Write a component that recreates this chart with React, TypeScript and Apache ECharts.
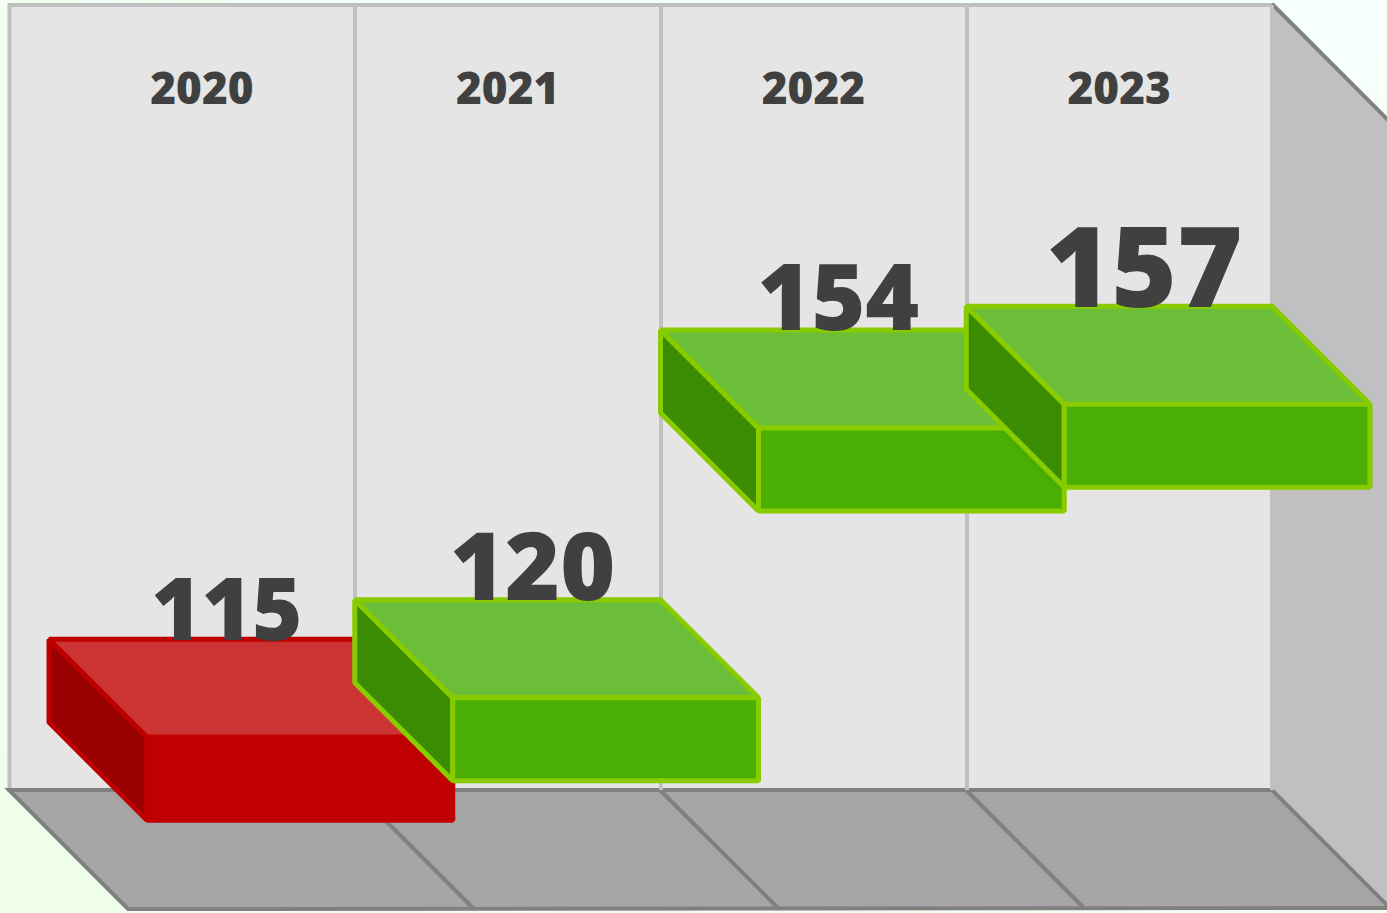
import React, { useEffect, useRef } from "react";
import * as echarts from "echarts";

const categories = ["2020", "2021", "2022", "2023"];
const values = [115, 120, 154, 157];

const RED = { top: "#cc3333", front: "#c00000", side: "#990000", stroke: "#c00000" };
const GREEN = { top: "#6cbe38", front: "#4aae04", side: "#3c8c03", stroke: "#88cc00" };
const slabStyles = [RED, GREEN, GREEN, GREEN];
const labelSizes = [86, 94, 92, 112];

const DEPTH = 98;
const THICK = 83;
const FONT = "'Open Sans', Lato, sans-serif";

export default function App() {
  const ref = useRef<HTMLDivElement>(null);
  useEffect(() => {
    if (!ref.current) return;
    const chart = echarts.init(ref.current, undefined, { renderer: "svg" });
    const option: any = {
      animation: false,
      backgroundColor: {
        type: "linear",
        x: 1,
        y: 0,
        x2: 0,
        y2: 1,
        colorStops: [
          { offset: 0, color: "#f6fffb" },
          { offset: 1, color: "#effeea" },
        ],
      },
      grid: { left: 49, right: 115, top: 5, bottom: 123 },
      xAxis: {
        type: "category",
        data: categories,
        position: "top",
        axisLine: { show: false },
        axisTick: { show: false },
        axisLabel: {
          inside: true,
          margin: 82,
          verticalAlign: "middle",
          fontFamily: FONT,
          fontWeight: 800,
          fontSize: 44,
          color: "#404040",
        },
        splitLine: {
          show: true,
          interval: (i: number) => i > 0,
          lineStyle: { color: "#c0c0c0", width: 4 },
        },
      },
      yAxis: {
        type: "value",
        min: 96,
        max: 195,
        show: false,
        splitLine: { show: false },
      },
      graphic: [
        {
          type: "rect",
          z: -10,
          shape: { x: 9.5, y: 5, width: 1263, height: 785 },
          style: { fill: "#e5e5e5", stroke: "#c0c0c0", lineWidth: 4 },
        },
        {
          type: "polygon",
          z: -10,
          shape: { points: [[1272, 5], [1392, 125], [1392, 910], [1272, 790]] },
          style: { fill: "#c0c0c0", stroke: "none" },
        },
        {
          type: "line",
          z: -9,
          shape: { x1: 1272, y1: 4, x2: 1392, y2: 124 },
          style: { stroke: "#808080", lineWidth: 4 },
        },
        {
          type: "line",
          z: -9,
          shape: { x1: 1272, y1: 5, x2: 1272, y2: 790 },
          style: { stroke: "#b4b4b4", lineWidth: 3 },
        },
        {
          type: "polygon",
          z: -8,
          shape: { points: [[9, 790], [1272, 790], [1390, 908], [128, 909]] },
          style: { fill: "#a6a6a6", stroke: "#808080", lineWidth: 4, lineJoin: "miter" },
        },
        {
          type: "line",
          z: -7,
          shape: { x1: 355, y1: 790, x2: 474, y2: 909 },
          style: { stroke: "#808080", lineWidth: 4 },
        },
        {
          type: "line",
          z: -7,
          shape: { x1: 660, y1: 790, x2: 779, y2: 909 },
          style: { stroke: "#808080", lineWidth: 4 },
        },
        {
          type: "line",
          z: -7,
          shape: { x1: 966, y1: 790, x2: 1085, y2: 909 },
          style: { stroke: "#808080", lineWidth: 4 },
        },
      ],
      series: [
        {
          type: "custom",
          clip: false,
          data: categories.map((c, i) => [i, values[i]]),
          encode: { x: 0, y: 1 },
          renderItem: (params: any, api: any) => {
            const i = params.dataIndex;
            const v = api.value(1);
            const c = api.coord([i, v]);
            const bw = api.size([1, 0])[0];
            const x0 = c[0] - bw / 2;
            const x1 = c[0] + bw / 2;
            const y = c[1];
            const s = slabStyles[i];
            const fs = labelSizes[i];
            const base = { stroke: s.stroke, lineWidth: 5, lineJoin: "bevel" };
            return {
              type: "group",
              children: [
                {
                  type: "polygon",
                  shape: {
                    points: [
                      [x0, y],
                      [x0 + DEPTH, y + DEPTH],
                      [x0 + DEPTH, y + DEPTH + THICK],
                      [x0, y + THICK],
                    ],
                  },
                  style: { ...base, fill: s.side },
                },
                {
                  type: "polygon",
                  shape: {
                    points: [
                      [x0, y],
                      [x1, y],
                      [x1 + DEPTH, y + DEPTH],
                      [x0 + DEPTH, y + DEPTH],
                    ],
                  },
                  style: { ...base, fill: s.top },
                },
                {
                  type: "rect",
                  shape: { x: x0 + DEPTH, y: y + DEPTH, width: bw, height: THICK },
                  style: { ...base, fill: s.front },
                },
                {
                  type: "text",
                  z2: 10,
                  style: {
                    text: String(v),
                    x: c[0] + 25,
                    y: y - 2 - fs * 0.36,
                    textAlign: "center",
                    textVerticalAlign: "middle",
                    fontFamily: FONT,
                    fontWeight: 800,
                    fontSize: fs,
                    fill: "#404040",
                  },
                },
              ],
            };
          },
        },
      ],
    };
    chart.setOption(option);
    return () => chart.dispose();
  }, []);
  return <div ref={ref} style={{ width: 1387, height: 913, position: "absolute", left: 0, top: 0 }} />;
}
